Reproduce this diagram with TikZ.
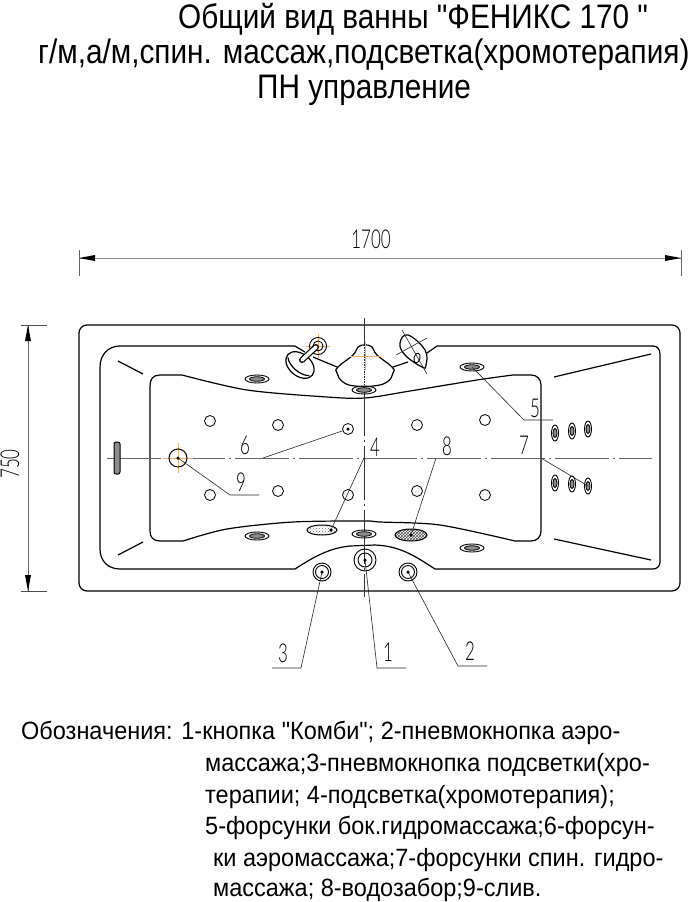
\documentclass[tikz,border=0pt]{standalone}
\usepackage{fontspec}
\newfontfamily\labelfont{Liberation Sans}
\newfontfamily\cadfont{Lato Light}
\usetikzlibrary{shapes.geometric}
\usetikzlibrary{patterns}

\begin{document}
\begin{tikzpicture}[x=1pt, y=-1pt, line_style/.style={draw=black, line width=1.2pt},
   thin_style/.style={draw=black!85, line width=0.6pt},
   axis_style/.style={draw=black!60, line width=0.8pt, dash pattern=on 54pt off 4pt on 2pt off 4pt},
   orange_style/.style={draw=orange!50!brown!60, line width=0.6pt},
   title_style/.style={anchor=base west, inner sep=0pt, font=\labelfont\fontsize{34}{34}\selectfont, xscale=0.875},
   legend_style/.style={anchor=base west, inner sep=0pt, font=\labelfont\fontsize{25}{25}\selectfont, xscale=0.94},
   mark_style/.style={inner sep=0pt, font=\cadfont\fontsize{26}{26}\selectfont, xscale=0.65},
   air_style/.style={circle, draw=black, line width=0.8pt, minimum size=11pt, inner sep=0pt},
   button_style/.style={circle, draw=black, line width=0.9pt, inner sep=0pt},
   flat_jet/.style={ellipse, draw=black, line width=0.9pt, minimum width=24pt, minimum height=8pt, inner sep=0pt},
   tall_jet/.style={ellipse, draw=black, line width=0.9pt, minimum width=7pt, minimum height=16pt, inner sep=0pt},
   dot_style/.style={circle, fill=black, minimum size=3.5pt, inner sep=0pt}]
	\useasboundingbox (0,0) rectangle (689,902);

	% titles
	\node [title_style] (t1) at (178,28) {Общий вид ванны "ФЕНИКС 170 "};
	\node [title_style] (t2) at (38,63) {г/м,а/м,спин. массаж,подсветка(хромотерапия)};
	\node [title_style] (t3) at (257,98) {ПН управление};

	% dimensions
	\coordinate (d1) at (79,258);
	\coordinate (d2) at (681,258);
	\coordinate (d3) at (28,325);
	\coordinate (d4) at (28,591);
	\draw [draw=black!60, line width=0.7pt] (79,250) -- (79,276);
	\draw [draw=black!60, line width=0.7pt] (681,250) -- (681,276);
	\draw [draw=black!70, line width=0.7pt] (21,325) -- (47,325);
	\draw [draw=black!70, line width=0.7pt] (21,591) -- (47,591);
	\draw [draw=black!45, line width=1pt] (d1) -- (d2);
	\draw [draw=black!60, line width=0.8pt] (d3) -- (d4);
	\fill (d1) -- ++(16,-3) -- ++(0,6) -- cycle;
	\fill (d2) -- ++(-16,-3) -- ++(0,6) -- cycle;
	\fill (d3) -- ++(-3,16) -- ++(6,0) -- cycle;
	\fill (d4) -- ++(-3,-16) -- ++(6,0) -- cycle;
	\node [mark_style] (m1700) at (371,239) {1700};
	\node [rotate=90, mark_style] (m750) at (10,464) {750};

	% tub outlines
	\draw [line_style, rounded corners=8pt] (79,325) rectangle (680,591);
	\draw [line_style] (295,346) -- (120,346) .. controls (108,346) and (100,355) .. (100,367) -- (100,549)
		.. controls (100,561) and (108,569) .. (120,569) -- (295,569)
		.. controls (315,556) and (330,548) .. (350,546) -- (375,545)
		.. controls (400,546) and (415,556) .. (435,569)
		-- (653,569) .. controls (657,569) and (660,566) .. (660,562) -- (660,354)
		.. controls (660,349) and (657,346) .. (653,346) -- (437,346) -- (427,353);
	\draw [line_style] (295,346) -- (305,352);
	\draw [line_style] (313,357) -- (337,367);
	\draw [line_style] (393,367) -- (408,362);
	\draw [line_style] (150,386) .. controls (150,379) and (153,375) .. (160,375) -- (182,375)
		-- plot [smooth, tension=0.5] coordinates {(182,375) (247,390) (327,397) (365,398) (410,391) (477,380) (513,375)}
		-- (531,375) .. controls (537,375) and (541,379) .. (541,385) -- (541,531)
		.. controls (541,537) and (537,541) .. (531,541) -- (515,541)
		-- plot [smooth, tension=0.5] coordinates {(515,541) (440,525) (380,522) (365,521) (293,522) (227,529) (183,541)}
		-- (160,541) .. controls (153,541) and (150,537) .. (150,531) -- cycle;
	\draw [line_style] (118,361) -- (143,374);
	\draw [line_style] (118,555) -- (143,542);
	\draw [line_style] (554,377) -- (651,354);
	\draw [line_style] (554,539) -- (651,560);

	% axes
	\coordinate (a1) at (107,458);
	\coordinate (a2) at (652,458);
	\coordinate (a3) at (364.5,318);
	\coordinate (a4) at (364.5,597);
	\draw [axis_style] (a1) -- (a2);
	\draw [axis_style, draw=black!80] (a3) -- (a4);

	% headrest and handles
	\draw [line_style, fill=white] plot [smooth cycle, tension=0.8] coordinates {(365,345) (358,347) (353,355) (338,367) (337,373) (343,382) (355,386) (373,386) (387,382) (393,373) (392,367) (377,355) (372,347)};
	\draw [orange_style] (350,356) -- (381,356);
	\draw [orange_style] (365,342) -- (365,370);
	\draw [black!85, line width=0.7pt, densely dotted] (364.5,345) -- (364.5,386);
	\draw [line_style, fill=white, rotate around={-40:(300,365)}] (300,365) ellipse (16 and 11);
	\draw [line_style, rotate around={-40:(300,365)}] (286,367) .. controls (292,373) and (308,373) .. (314,367);
	\draw [orange_style] (306,346) -- (330,346);
	\draw [orange_style] (318,334) -- (318,358);
	\node [button_style, minimum size=17pt] (h1) at (318,346) {};
	\node [button_style, minimum size=10pt] (h2) at (318,346) {};
	\draw [black, line width=6pt, line cap=round] (302,360) -- (316,347);
	\draw [white, line width=3.6pt, line cap=round] (302,360) -- (316,347);
	\draw [line_style, fill=white] plot [smooth cycle, tension=0.7] coordinates {(408,335) (400,343) (405,355) (422,367) (426,365) (425,350)};
	\draw [thin_style] (402,330) -- (427,374);
	\draw [thin_style] (396,355) -- (427,338);
	\node [ellipse, draw=black, line width=0.9pt, minimum width=6pt, minimum height=10pt, inner sep=0pt, rotate=-15] (h3) at (417,358) {};

	% overflow at the left end
	\node [rectangle, rounded corners=2pt, draw=black, fill=black!45, line width=1pt, minimum width=6pt, minimum height=32pt, inner sep=0pt] (ov) at (117,458) {};

	% air jets
	\foreach \name/\x/\y in {
		c1/210/421, c2/278/425, c3/417/425, c4/485/420,
		c5/210/495, c6/278/491, c7/348/495, c8/417/491, c9/485/495
		}
	  \node [air_style] (\name) at (\x,\y) {};
	\node [air_style] (c10) at (348,429) {};
	\node [dot_style] (c11) at (348,429) {};

	% side jets
	\foreach \name/\x/\y in {
		f1/257/379, f2/364/390, f3/472/367,
		f4/257/536, f5/364/534, f6/472/548
		}
	  {
	  \node [flat_jet] (\name) at (\x,\y) {};
	  \node [ellipse, draw=black, fill=black!45, line width=0.8pt, minimum width=15pt, minimum height=4.5pt, inner sep=0pt] at (\x,\y) {};
	  }
	\foreach \name/\x/\y in {
		v1/555/433, v2/572/431, v3/588/429,
		v4/555/483, v5/572/484, v6/588/486
		}
	  {
	  \node [tall_jet] (\name) at (\x,\y) {};
	  \node [ellipse, draw=black, fill=black!45, line width=0.8pt, minimum width=4pt, minimum height=9pt, inner sep=0pt] at (\x,\y) {};
	  }

	% lamp and intake
	\node [ellipse, draw=black, line width=1pt, minimum width=30pt, minimum height=10pt, inner sep=0pt, pattern=crosshatch dots, pattern color=black!60] (e4) at (322,530) {};
	\node [ellipse, draw=black, line width=1pt, minimum width=32pt, minimum height=12pt, inner sep=0pt, pattern=crosshatch, pattern color=black!70] (e8) at (411,535) {};
	\node [dot_style] (p4) at (331,530) {};
	\node [dot_style] (p8) at (411,535) {};

	% drain
	\draw [orange_style] (163,458) -- (193,458);
	\draw [orange_style] (178,443) -- (178,473);
	\node [button_style, line width=1pt, minimum size=18pt] (n9) at (178,458) {};
	\node [dot_style] (p9) at (178,458) {};

	% buttons
	\foreach \name/\x/\y/\rout/\rin in {
		n1/365/560/22/14,
		n2/408/572/18/13,
		n3/322/572/18/13
		}
	  {
	  \node [button_style, minimum size=\rout pt] (\name) at (\x,\y) {};
	  \node [button_style, minimum size=\rin pt] at (\x,\y) {};
	  \node [dot_style] at (\x,\y) {};
	  }

	% leaders
	\coordinate (k1) at (377,668);
	\coordinate (l1) at (406,668);
	\coordinate (k2) at (458,666);
	\coordinate (l2) at (487,666);
	\coordinate (k3) at (301,668);
	\coordinate (l3) at (272,668);
	\coordinate (k4) at (364,458);
	\coordinate (k5) at (524,420);
	\coordinate (l5) at (553,420);
	\coordinate (k6) at (263,458);
	\coordinate (k7) at (541,458);
	\coordinate (k8) at (436,458);
	\coordinate (k9) at (230,495);
	\coordinate (l9) at (259,495);
	\draw [thin_style] (n1.center) -- (k1) -- (l1);
	\draw [thin_style] (n2.center) -- (k2) -- (l2);
	\draw [thin_style] (n3.center) -- (k3) -- (l3);
	\draw [thin_style] (k4) -- (p4);
	\draw [thin_style] (f3.center) -- (k5) -- (l5);
	\draw [thin_style] (c10) -- (k6);
	\draw [thin_style] (k7) -- (v6.center);
	\draw [thin_style] (k8) -- (p8);
	\draw [thin_style] (n9.center) -- (k9) -- (l9);

	% leader numbers
	\foreach \name/\x/\y/\txt in {
		m1/388/652/1, m2/470/651/2, m3/283/653/3, m4/375/447/4, m5/535/408/5,
		m6/245/445/6, m7/524/445/7, m8/447/446/8, m9/241/482/9
		}
	  \node [mark_style] (\name) at (\x,\y) {\txt};

	% legend
	\node [legend_style] (g1) at (21,739) {Обозначения: 1-кнопка "Комби"; 2-пневмокнопка аэро-};
	\node [legend_style] (g2) at (205,771) {массажа;3-пневмокнопка подсветки(хро-};
	\node [legend_style] (g3) at (205,803) {терапии; 4-подсветка(хромотерапия);};
	\node [legend_style] (g4) at (205,834) {5-форсунки бок.гидромассажа;6-форсун-};
	\node [legend_style] (g5) at (213,866) {ки аэромассажа;7-форсунки спин. гидро-};
	\node [legend_style] (g6) at (213,896) {массажа; 8-водозабор;9-слив.};
\end{tikzpicture}
\end{document}
